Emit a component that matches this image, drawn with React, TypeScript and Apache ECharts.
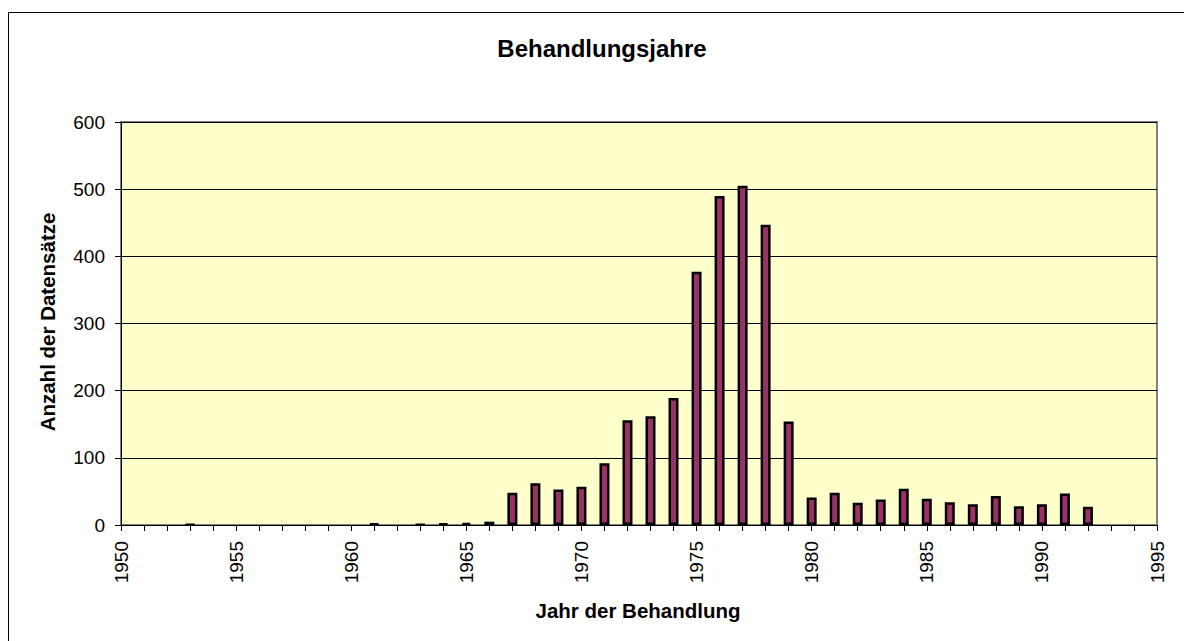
import React, { useEffect, useRef } from "react";
import * as echarts from "echarts";

const years = [1953, 1961, 1963, 1964, 1965, 1966, 1967, 1968, 1969, 1970, 1971, 1972, 1973, 1974, 1975, 1976, 1977, 1978, 1979, 1980, 1981, 1982, 1983, 1984, 1985, 1986, 1987, 1988, 1989, 1990, 1991, 1992];
const counts = [1, 2, 1, 2, 3, 5, 48, 62, 53, 57, 92, 156, 162, 189, 377, 490, 505, 447, 154, 41, 48, 33, 38, 54, 39, 34, 31, 43, 28, 31, 47, 27];

const title = "Behandlungsjahre";
const xName = "Jahr der Behandlung";
const yName = "Anzahl der Datensätze";

const FONT = "'Liberation Sans', Arial, sans-serif";

export default function App() {
  const ref = useRef<HTMLDivElement>(null);
  useEffect(() => {
    if (!ref.current) return;
    const chart = echarts.init(ref.current, null, { renderer: "svg" });
    chart.setOption({
      animation: false,
      backgroundColor: "#ffffff",
      textStyle: { fontFamily: FONT },
      grid: {
        left: 121,
        top: 122,
        right: 27,
        bottom: 116,
        show: true,
        backgroundColor: "#FFFFCC",
        borderColor: "#808080",
        borderWidth: 2,
      },
      xAxis: {
        type: "value",
        min: 1950,
        max: 1995,
        interval: 5,
        axisLine: { show: true, onZero: false, lineStyle: { color: "#000", width: 1 } },
        axisTick: { show: true, length: 6, lineStyle: { color: "#000" } },
        minorTick: { show: true, splitNumber: 5, length: 6, lineStyle: { color: "#000" } },
        splitLine: { show: false },
        axisLabel: {
          rotate: 90,
          margin: 16,
          fontSize: 19,
          color: "#000",
          fontFamily: FONT,
          formatter: (v: number) => String(v),
        },
      },
      yAxis: {
        type: "value",
        min: 0,
        max: 600,
        interval: 100,
        axisLine: { show: true, lineStyle: { color: "#000", width: 1 } },
        axisTick: { show: true, length: 6, lineStyle: { color: "#000" } },
        splitLine: { show: true, lineStyle: { color: "#000", width: 1 } },
        axisLabel: { margin: 16, fontSize: 19, color: "#000", fontFamily: FONT },
      },
      graphic: [
        {
          type: "rect",
          shape: { x: 8.5, y: 12.5, width: 1400, height: 800 },
          style: { fill: "none", stroke: "#000", lineWidth: 1 },
          silent: true,
          z: -1,
        },
        {
          type: "text",
          x: 602,
          y: 48,
          style: {
            text: title,
            fontFamily: FONT,
            fontWeight: "bold",
            fontSize: 24,
            fill: "#000",
            textAlign: "center",
            textVerticalAlign: "middle",
          },
        },
        {
          type: "text",
          x: 638,
          y: 610,
          style: {
            text: xName,
            fontFamily: FONT,
            fontWeight: "bold",
            fontSize: 20.5,
            fill: "#000",
            textAlign: "center",
            textVerticalAlign: "middle",
          },
        },
        {
          type: "text",
          x: 47,
          y: 322,
          rotation: Math.PI / 2,
          style: {
            text: yName,
            fontFamily: FONT,
            fontWeight: "bold",
            fontSize: 20.5,
            fill: "#000",
            textAlign: "center",
            textVerticalAlign: "middle",
          },
        },
      ],
      series: [
        {
          type: "bar",
          data: years.map((y, i) => [y, counts[i]]),
          barWidth: 10,
          itemStyle: { color: "#993366", borderColor: "#000", borderWidth: 2.5 },
        },
      ],
    });
    return () => chart.dispose();
  }, []);
  return (
    <div
      ref={ref}
      style={{ position: "fixed", left: 0, top: 0, width: 1184, height: 641 }}
    />
  );
}
